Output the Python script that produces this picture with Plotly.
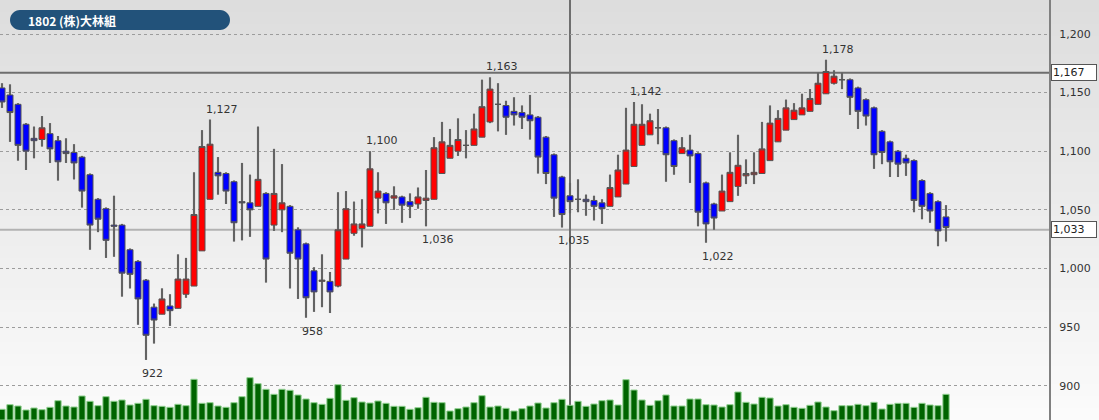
import plotly.graph_objects as go

# ---------------- data ----------------
title_text = "1802 (株)大林組"

opens = [1154, 1148, 1140, 1123, 1111, 1110, 1115, 1109, 1100, 1099,
         1095, 1080, 1059, 1051, 1037, 1037, 1016, 1006, 990, 967,
         961, 968, 966, 978, 985, 1015, 1059, 1082, 1081, 1074,
         1057, 1056, 1053, 1064, 1037, 1050, 1053, 1033, 1021, 998,
         989, 989, 985, 1008, 1030, 1034, 1036, 1060, 1064, 1060,
         1061, 1057, 1055, 1058, 1059, 1081, 1094, 1100, 1105, 1105,
         1112, 1125, 1140, 1139, 1134, 1133, 1131, 1129, 1112, 1097,
         1078, 1062, 1059, 1059, 1058, 1056, 1053, 1061, 1072, 1087,
         1105, 1114, 1120, 1120, 1109, 1098, 1101, 1098, 1073, 1055,
         1049, 1057, 1070, 1079, 1080, 1081, 1092, 1108, 1118, 1127,
         1131, 1134, 1140, 1149, 1158, 1161, 1161, 1154, 1144, 1137,
         1117, 1108, 1100, 1094, 1092, 1075, 1064, 1057, 1044]
highs = [1158, 1157, 1141, 1124, 1121, 1130, 1124, 1113, 1111, 1106,
         1096, 1081, 1060, 1052, 1062, 1038, 1017, 1007, 991, 970,
         983, 978, 1012, 1009, 1082, 1118, 1127, 1095, 1082, 1075,
         1090, 1080, 1121, 1065, 1102, 1089, 1054, 1035, 1022, 1001,
         1012, 997, 1065, 1066, 1057, 1059, 1100, 1082, 1065, 1070,
         1062, 1064, 1069, 1084, 1112, 1125, 1119, 1128, 1118, 1132,
         1161, 1163, 1158, 1143, 1146, 1139, 1148, 1130, 1113, 1098,
         1079, 1073, 1076, 1063, 1062, 1059, 1080, 1097, 1137, 1142,
         1140, 1132, 1136, 1121, 1110, 1112, 1114, 1099, 1074, 1056,
         1080, 1099, 1114, 1093, 1099, 1125, 1139, 1135, 1144, 1141,
         1149, 1153, 1167, 1178, 1169, 1167, 1162, 1155, 1145, 1138,
         1118, 1109, 1101, 1097, 1093, 1076, 1065, 1058, 1054]
lows = [1137, 1108, 1092, 1084, 1094, 1104, 1090, 1075, 1090, 1076,
        1052, 1016, 1031, 1009, 1010, 976, 983, 952, 922, 936,
        961, 951, 966, 975, 985, 1015, 1059, 1063, 1055, 1023,
        1024, 1027, 1053, 988, 1032, 1031, 983, 974, 958, 963,
        967, 962, 984, 1008, 1028, 1018, 1036, 1047, 1038, 1050,
        1039, 1043, 1051, 1036, 1059, 1081, 1094, 1096, 1094, 1105,
        1112, 1124, 1117, 1114, 1122, 1119, 1110, 1081, 1072, 1044,
        1035, 1047, 1048, 1045, 1041, 1038, 1053, 1061, 1072, 1087,
        1105, 1114, 1106, 1074, 1080, 1098, 1073, 1036, 1022, 1033,
        1049, 1057, 1062, 1072, 1072, 1081, 1092, 1108, 1118, 1127,
        1131, 1134, 1140, 1149, 1157, 1153, 1131, 1119, 1122, 1085,
        1089, 1078, 1078, 1079, 1048, 1042, 1039, 1019, 1023]
closes = [1142, 1133, 1105, 1100, 1109, 1120, 1102, 1091, 1098, 1090,
          1066, 1037, 1042, 1024, 1036, 996, 995, 974, 943, 956,
          974, 964, 991, 991, 1046, 1104, 1106, 1079, 1066, 1039,
          1056, 1050, 1076, 1008, 1064, 1056, 1013, 1008, 975, 980,
          990, 980, 1033, 1051, 1038, 1038, 1085, 1066, 1056, 1062,
          1054, 1053, 1061, 1060, 1103, 1108, 1105, 1110, 1105, 1119,
          1138, 1153, 1140, 1129, 1131, 1129, 1126, 1095, 1081, 1060,
          1046, 1057, 1059, 1057, 1053, 1051, 1069, 1084, 1101, 1123,
          1123, 1126, 1120, 1097, 1087, 1103, 1096, 1048, 1038, 1043,
          1066, 1082, 1088, 1081, 1082, 1102, 1124, 1128, 1137, 1135,
          1137, 1145, 1158, 1168, 1164, 1161, 1146, 1134, 1130, 1097,
          1099, 1091, 1089, 1090, 1058, 1053, 1049, 1032, 1035]
volumes = [107, 153, 140, 100, 120, 103, 127, 193, 140, 130,
           240, 187, 143, 233, 187, 200, 150, 167, 207, 143,
           137, 127, 157, 143, 407, 167, 173, 140, 127, 173,
           233, 423, 363, 307, 257, 307, 297, 250, 210, 173,
           157, 217, 353, 197, 223, 180, 170, 190, 167, 137,
           137, 107, 123, 227, 177, 173, 90, 113, 130, 173,
           243, 130, 140, 117, 90, 113, 140, 170, 120, 173,
           207, 147, 187, 137, 160, 193, 200, 150, 403, 300,
           200, 147, 193, 250, 140, 140, 210, 210, 153, 150,
           130, 153, 280, 177, 160, 227, 220, 140, 153, 127,
           117, 147, 180, 130, 93, 143, 143, 157, 143, 177,
           110, 157, 167, 167, 127, 167, 150, 143, 257]

price_ticks = [900, 950, 1000, 1050, 1100, 1150, 1200]
ref_price = 1167
last_price = 1033
cursor_idx = 71
peak_idx = [26, 46, 61, 79, 103]
trough_idx = [18, 38, 53, 70, 88]

# ---------------- layout constants ----------------
W, H = 1099, 420
R_MARGIN = 50
PLOT_W = W - R_MARGIN
PX_PER_BAR = 8.0
FONT = "DejaVu Sans"

n = len(opens)
xs = list(range(n))

fig = go.Figure()

# gradient background
bands = 70
top_c = (221, 221, 221)
bot_c = (251, 251, 251)
for k in range(bands):
    t = k / (bands - 1)
    c = tuple(round(top_c[j] + (bot_c[j] - top_c[j]) * t) for j in range(3))
    fig.add_shape(type="rect", xref="paper", yref="paper",
                  x0=0, x1=W / PLOT_W,
                  y0=max(0, 1 - (k + 1) / bands - 0.003), y1=1 - k / bands,
                  fillcolor="rgb(%d,%d,%d)" % c, line_width=0, layer="below")

# volume
fig.add_trace(go.Bar(x=xs, y=volumes, yaxis="y2", width=0.78,
                     marker=dict(color="#006400", line=dict(color="#8fd08f", width=1)),
                     hoverinfo="skip", showlegend=False))

# wicks (drawn in the bar layer, beneath the candle bodies)
fig.add_trace(go.Bar(x=xs, y=[h - l for h, l in zip(highs, lows)], base=lows,
                     width=0.27, marker=dict(color="#737373", line=dict(width=0)),
                     hoverinfo="skip", showlegend=False))

fig.add_trace(go.Candlestick(
    x=xs, open=opens, high=highs, low=lows, close=closes,
    increasing=dict(fillcolor="#ff0000", line=dict(color="#555555", width=1)),
    decreasing=dict(fillcolor="#0000ff", line=dict(color="#555555", width=1)),
    whiskerwidth=0, showlegend=False))

# reference lines
fig.add_shape(type="line", xref="paper", x0=0, x1=1, yref="y", y0=ref_price, y1=ref_price,
              line=dict(color="#6e6e6e", width=2), layer="below")
fig.add_shape(type="line", xref="paper", x0=0, x1=1, yref="y", y0=last_price, y1=last_price,
              line=dict(color="#b2b2b2", width=2), layer="below")
fig.add_shape(type="line", xref="x", x0=cursor_idx, x1=cursor_idx, yref="paper", y0=0, y1=1,
              line=dict(color="#6e6e6e", width=2), layer="below")

# right-side value boxes
for v in (ref_price, last_price):
    fig.add_annotation(x=1, xref="paper", xanchor="left", xshift=2,
                       y=v, yref="y", yanchor="middle",
                       text=f"{v:,}", showarrow=False, align="left",
                       width=42, height=13, bgcolor="#ffffff",
                       bordercolor="#555555", borderwidth=1, borderpad=1,
                       font=dict(family=FONT, size=11, color="#222222"))

# peak / trough labels
for i in peak_idx:
    fig.add_annotation(x=xs[i], y=highs[i], xanchor="left", yanchor="bottom",
                       xshift=-6, yshift=2, text=f"{highs[i]:,}", showarrow=False,
                       font=dict(family=FONT, size=11, color="#333333"))
for i in trough_idx:
    fig.add_annotation(x=xs[i], y=lows[i], xanchor="left", yanchor="top",
                       xshift=-6, yshift=-5, text=f"{lows[i]:,}", showarrow=False,
                       font=dict(family=FONT, size=11, color="#333333"))

# title pill
def px(xp, yp):
    return f"{xp / PLOT_W:.6f},{1 - yp / H:.6f}"

x0p, x1p, y0p, y1p, r = 10, 230, 10, 30, 10
k = 0.5523 * r
path = (f"M {px(x0p + r, y0p)} L {px(x1p - r, y0p)} "
        f"C {px(x1p - r + k, y0p)} {px(x1p, y0p + r - k)} {px(x1p, y0p + r)} "
        f"C {px(x1p, y0p + r + k)} {px(x1p - r + k, y1p)} {px(x1p - r, y1p)} "
        f"L {px(x0p + r, y1p)} "
        f"C {px(x0p + r - k, y1p)} {px(x0p, y0p + r + k)} {px(x0p, y0p + r)} "
        f"C {px(x0p, y0p + r - k)} {px(x0p + r - k, y0p)} {px(x0p + r, y0p)} Z")
fig.add_shape(type="path", xref="paper", yref="paper", path=path,
              fillcolor="#22527a", line_width=0, layer="above")
fig.add_annotation(x=26 / PLOT_W, xref="paper", xanchor="left",
                   y=1 - 20 / H, yref="paper", yanchor="middle",
                   text=f"<b>{title_text}</b>", showarrow=False,
                   font=dict(family="Noto Sans CJK JP", size=12, color="#ffffff"))

x_left = -2 / PX_PER_BAR
x_right = x_left + PLOT_W / PX_PER_BAR
px_per_unit = (385.7 - 34) / 300.0
y_top = 1200 + 34 / px_per_unit
y_bot = 1200 - (H - 34) / px_per_unit

fig.update_layout(
    width=W, height=H,
    margin=dict(l=0, r=R_MARGIN, t=0, b=0),
    paper_bgcolor="#f8f8f8", plot_bgcolor="rgba(0,0,0,0)",
    boxgap=0.25, boxgroupgap=0, barmode="overlay",
    xaxis=dict(range=[x_left, x_right], visible=False, rangeslider=dict(visible=False),
               fixedrange=True),
    yaxis=dict(range=[y_bot, y_top], side="right", tickvals=price_ticks,
               tickformat=",d", showgrid=True, gridcolor="#9c9c9c", griddash="dot",
               gridwidth=1, showline=True, linecolor="#808080", linewidth=2,
               ticks="", ticklabelstandoff=6, zeroline=False,
               tickfont=dict(family=FONT, size=11, color="#333333"), fixedrange=True),
    yaxis2=dict(range=[0, H * 10], overlaying="y", visible=False, fixedrange=True),
    showlegend=False,
    hovermode=False,
)

fig.write_html("out.html", config={"displayModeBar": False},
               post_script="document.body.style.margin='0';document.body.style.padding='0';")
